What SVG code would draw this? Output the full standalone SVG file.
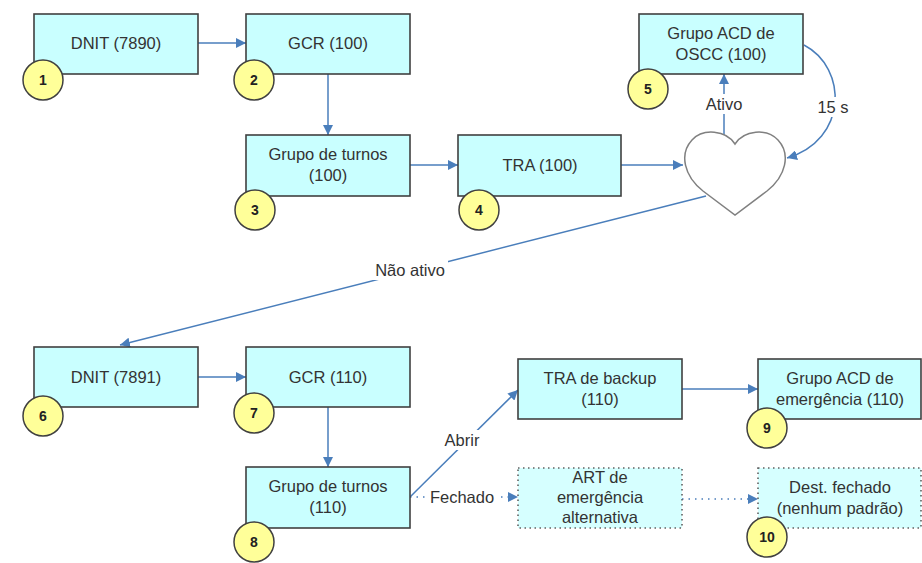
<svg xmlns="http://www.w3.org/2000/svg" width="922" height="563" viewBox="0 0 922 563">
<style>
.box{fill:#c9ffff;stroke:#404040;stroke-width:1.6}
.dbox{fill:#d6ffff;stroke:#606060;stroke-width:1.6;stroke-dasharray:1.5 3.5}
.num{fill:#ffff99;stroke:#404040;stroke-width:1.5}
.t{font-family:"Liberation Sans",Arial,sans-serif;font-size:16.5px;fill:#333;text-anchor:middle}
.n{font-family:"Liberation Sans",Arial,sans-serif;font-size:14px;font-weight:bold;fill:#222;text-anchor:middle}
.c{fill:none;stroke:#4a7ebb;stroke-width:1.5}
.dot{fill:none;stroke:#4a7ebb;stroke-width:1.6;stroke-dasharray:1.5 5}
.lb{fill:#fff}
</style>
<defs>
<marker id="ah" viewBox="0 0 10 10" refX="10" refY="5" markerWidth="10" markerHeight="10" markerUnits="userSpaceOnUse" orient="auto">
<path d="M0,0 L10,5 L0,10 Z" fill="#4a7ebb"/>
</marker>
</defs>
<g id="connectors">
<line class="c" x1="198" y1="43" x2="246" y2="43" marker-end="url(#ah)"/>
<line class="c" x1="328" y1="74" x2="328" y2="135" marker-end="url(#ah)"/>
<line class="c" x1="410" y1="165" x2="458" y2="165" marker-end="url(#ah)"/>
<line class="c" x1="621" y1="165" x2="683" y2="165" marker-end="url(#ah)"/>
<line class="c" x1="724" y1="135" x2="724" y2="74" marker-end="url(#ah)"/>
<path class="c" d="M804,45 C848,68 848,140 787,158" marker-end="url(#ah)"/>
<line class="c" x1="706" y1="196" x2="120" y2="345" marker-end="url(#ah)"/>
<line class="c" x1="198" y1="377" x2="246" y2="377" marker-end="url(#ah)"/>
<line class="c" x1="328" y1="407" x2="328" y2="467" marker-end="url(#ah)"/>
<line class="c" x1="410" y1="497" x2="518" y2="390" marker-end="url(#ah)"/>
<line class="dot" x1="410" y1="497" x2="518" y2="497" marker-end="url(#ah)"/>
<line class="c" x1="682" y1="389" x2="758" y2="389" marker-end="url(#ah)"/>
<line class="dot" x1="682" y1="499" x2="758" y2="499" marker-end="url(#ah)"/>
<rect class="lb" x="700" y="94" width="48" height="20"/>
<text class="t" x="724" y="110">Ativo</text>
<rect class="lb" x="812" y="97" width="42" height="20"/>
<text class="t" x="833" y="113">15 s</text>
<rect class="lb" x="372" y="260" width="76" height="20"/>
<text class="t" x="410" y="276">Não ativo</text>
<rect class="lb" x="441" y="430" width="40" height="20"/>
<text class="t" x="462" y="446">Abrir</text>
<rect class="lb" x="429" y="487" width="67" height="20"/>
<text class="t" x="462" y="503">Fechado</text>
</g>
<g id="n1"><rect class="box" x="34" y="14" width="164" height="60"/><text class="t" x="116" y="49">DNIT (7890)</text><circle class="num" cx="43" cy="80" r="20"/><text class="n" x="43" y="85">1</text></g>
<g id="n2"><rect class="box" x="246" y="14" width="164" height="60"/><text class="t" x="328" y="49">GCR (100)</text><circle class="num" cx="254" cy="80" r="20"/><text class="n" x="254" y="85">2</text></g>
<g id="n3"><rect class="box" x="246" y="135" width="164" height="61"/><text class="t" x="328" y="160">Grupo de turnos</text><text class="t" x="328" y="181">(100)</text><circle class="num" cx="255" cy="210" r="20"/><text class="n" x="255" y="215">3</text></g>
<g id="n4"><rect class="box" x="458" y="135" width="163" height="61"/><text class="t" x="540" y="171">TRA (100)</text><circle class="num" cx="479" cy="210" r="20"/><text class="n" x="479" y="215">4</text></g>
<g id="heart"><path d="M735,144 C726,130 703,128 692,140 C679,154 684,176 703,191 L735,215 L767,191 C786,176 791,154 778,140 C767,128 744,130 735,144 Z" fill="#fff" stroke="#808080" stroke-width="1.5"/></g>
<g id="n5"><rect class="box" x="639" y="14" width="164" height="60"/><text class="t" x="721" y="39">Grupo ACD de</text><text class="t" x="721" y="60">OSCC (100)</text><circle class="num" cx="648" cy="89" r="20"/><text class="n" x="648" y="94">5</text></g>
<g id="n6"><rect class="box" x="34" y="347" width="164" height="60"/><text class="t" x="116" y="383">DNIT (7891)</text><circle class="num" cx="43" cy="416" r="20"/><text class="n" x="43" y="421">6</text></g>
<g id="n7"><rect class="box" x="246" y="347" width="164" height="60"/><text class="t" x="328" y="383">GCR (110)</text><circle class="num" cx="254" cy="413" r="20"/><text class="n" x="254" y="418">7</text></g>
<g id="n8"><rect class="box" x="246" y="467" width="164" height="61"/><text class="t" x="328" y="492">Grupo de turnos</text><text class="t" x="328" y="513">(110)</text><circle class="num" cx="254" cy="542" r="20"/><text class="n" x="254" y="547">8</text></g>
<g id="tra-backup"><rect class="box" x="518" y="359" width="164" height="60"/><text class="t" x="600" y="384">TRA de backup</text><text class="t" x="600" y="405">(110)</text></g>
<g id="n9"><rect class="box" x="758" y="359" width="163" height="60"/><text class="t" x="840" y="384">Grupo ACD de</text><text class="t" x="840" y="405">emergência (110)</text><circle class="num" cx="767" cy="428" r="20"/><text class="n" x="767" y="433">9</text></g>
<g id="art"><rect class="dbox" x="518" y="468" width="164" height="60"/><text class="t" x="600" y="483">ART de</text><text class="t" x="600" y="503">emergência</text><text class="t" x="600" y="523">alternativa</text></g>
<g id="n10"><rect class="dbox" x="758" y="468" width="163" height="60"/><text class="t" x="840" y="493">Dest. fechado</text><text class="t" x="840" y="514">(nenhum padrão)</text><circle class="num" cx="767" cy="537" r="20"/><text class="n" x="767" y="542">10</text></g>
</svg>
